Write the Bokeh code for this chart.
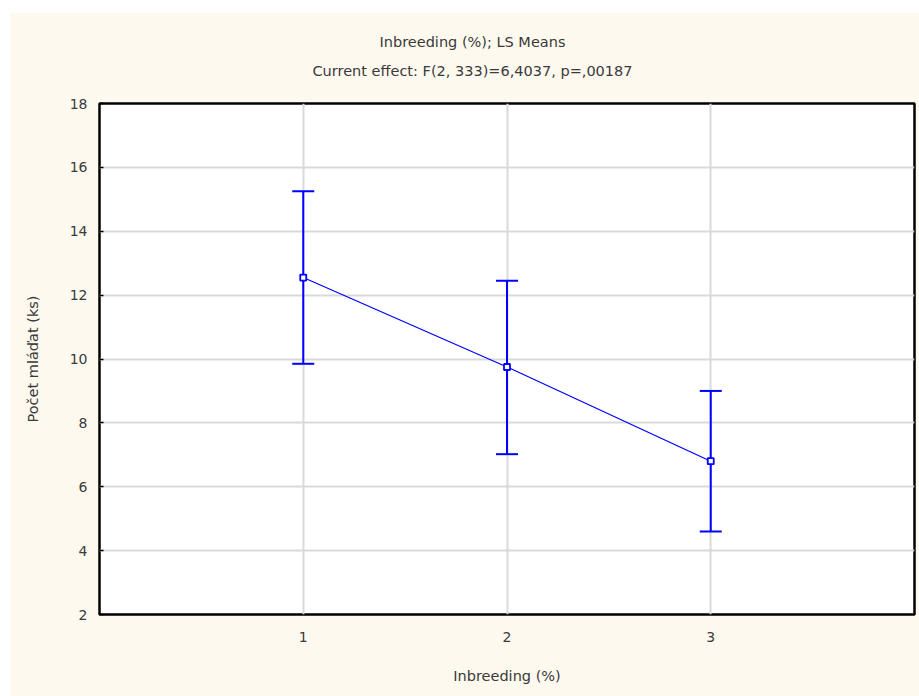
from bokeh.plotting import figure
from bokeh.models import Range1d, FixedTicker, Whisker, ColumnDataSource, Title
from bokeh.embed import file_html
from bokeh.resources import INLINE

levels = [1, 2, 3]
means = [12.55, 9.75, 6.8]
upper = [15.25, 12.45, 9.0]
lower = [9.85, 7.02, 4.6]
y_ticks = [2, 4, 6, 8, 10, 12, 14, 16, 18]
title_lines = ["Inbreeding (%); LS Means", "Current effect: F(2, 333)=6,4037, p=,00187"]

FONT = "DejaVu Sans"
CREAM = "#fef9ef"
TXT = "#3a3a3a"

p = figure(width=909, height=684, output_backend="svg", toolbar_location=None,
           x_range=Range1d(0, 4), y_range=Range1d(2, 18),
           min_border_left=89, min_border_right=5, min_border_top=91, min_border_bottom=82)
p.title = None
p.margin = (12, 0, 0, 10)
p.background_fill_color = "white"
p.border_fill_color = CREAM
p.outline_line_color = "black"
p.outline_line_width = 2.5

spacer = Title(text=" ", standoff=2, text_font=FONT, text_font_size="12px")
t2 = Title(text=title_lines[1], align="left", offset=213, standoff=13,
           text_font=FONT, text_font_size="14.5px", text_font_style="normal", text_color=TXT)
t1 = Title(text=title_lines[0], align="left", offset=280, standoff=10,
           text_font=FONT, text_font_size="14.5px", text_font_style="normal", text_color=TXT)
p.add_layout(spacer, "above")
p.add_layout(t2, "above")
p.add_layout(t1, "above")

src = ColumnDataSource(dict(x=levels, y=means, up=upper, lo=lower))

p.line("x", "y", source=src, line_color="blue", line_width=1.2)
w = Whisker(base="x", upper="up", lower="lo", source=src, line_color="blue", line_width=2)
w.upper_head.line_color = "blue"
w.lower_head.line_color = "blue"
w.upper_head.line_width = 2
w.lower_head.line_width = 2
w.upper_head.size = 22
w.lower_head.size = 22
p.add_layout(w)
p.scatter("x", "y", source=src, marker="square", size=6, fill_color="white",
          line_color="blue", line_width=1.8)

for ax in (p.xaxis[0], p.yaxis[0]):
    ax.axis_line_color = None
    ax.major_tick_in = 4
    ax.major_tick_out = 0
    ax.minor_tick_line_color = None
    ax.major_label_text_font = FONT
    ax.major_label_text_font_size = "14px"
    ax.major_label_text_color = TXT
    ax.axis_label_text_font = FONT
    ax.axis_label_text_font_size = "14.5px"
    ax.axis_label_text_font_style = "normal"
    ax.axis_label_text_color = TXT
    ax.major_tick_line_color = "black"
    ax.major_tick_line_width = 1.5

p.xaxis.ticker = FixedTicker(ticks=levels)
p.yaxis.ticker = FixedTicker(ticks=y_ticks)
p.xaxis.major_tick_line_color = None
p.xaxis.axis_label = "Inbreeding (%)"
p.yaxis.axis_label = "Počet mláďat (ks)"
p.xaxis.major_label_standoff = 17
p.xaxis.axis_label_standoff = 23
p.yaxis.major_label_standoff = 12
p.yaxis.axis_label_standoff = 26

p.grid.grid_line_color = "#d9d9d9"
p.grid.grid_line_width = 2

open("out.html", "w").write(file_html(p, INLINE))
